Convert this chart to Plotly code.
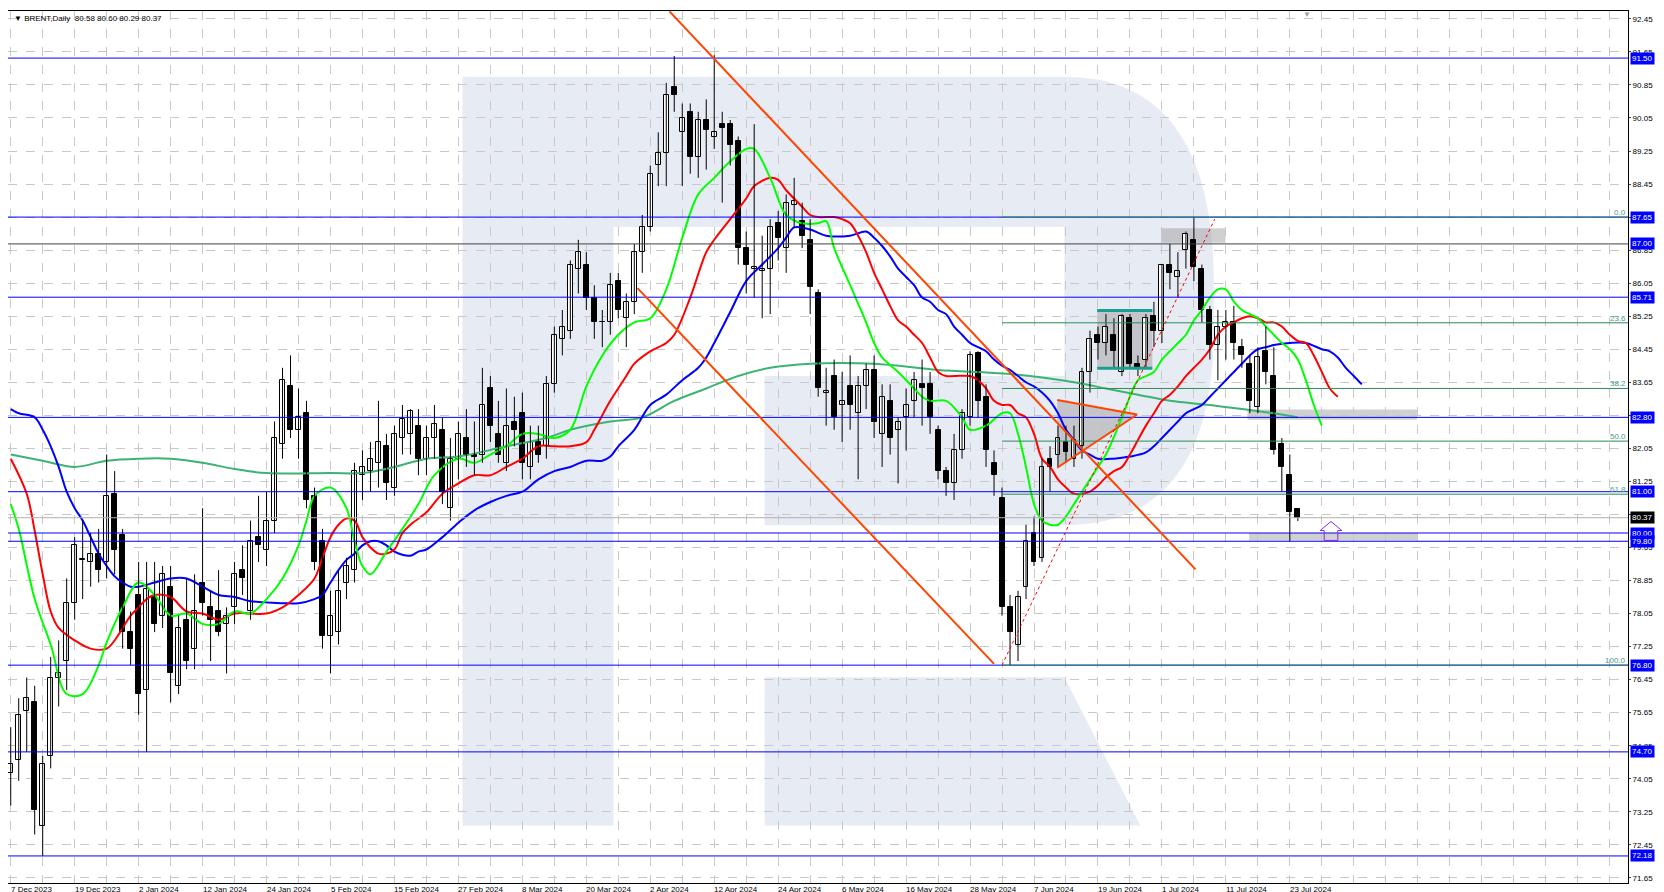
import plotly.graph_objects as go

# BRENT daily, 7 Dec 2023 .. 24 Jul 2024 (bar index on x)
opens = [74.2, 74.5, 75.7, 75.9, 72.9, 74.6, 76.5, 76.9, 78.3, 79.35, 79.3, 79.5, 79.3, 80.95, 79.95, 77.6,
         78.5, 76.2, 78.45, 78.0, 78.7, 76.3, 77.9, 77.2, 78.8, 78.2, 78.1, 77.8, 78.2, 79.1, 78.1, 79.9,
         79.6, 80.3, 82.15, 83.55, 82.5, 82.9, 80.9, 79.8, 77.5, 77.6, 78.8, 79.1, 81.4, 81.5, 81.7, 82.1,
         81.1, 82.3, 82.4, 82.6, 81.8, 82.3, 82.5, 80.6, 81.8, 82.3, 81.9, 81.9, 83.5, 82.4, 81.7, 82.7,
         82.9, 81.6, 82.2, 82.1, 83.6, 84.7, 84.9, 86.4, 86.5, 85.7, 85.1, 85.1, 86.1, 85.2, 85.6, 86.8,
         87.4, 88.9, 89.2, 90.8, 89.7, 90.2, 89.1, 90.0, 89.6, 89.9, 89.9, 89.5, 86.9, 86.4, 86.35, 86.4,
         87.5, 86.9, 87.95, 87.55, 87.1, 85.8, 83.4, 83.8, 83.1, 83.55, 82.9, 83.55, 83.95, 82.4, 83.2, 82.5,
         82.8, 83.2, 83.6, 83.6, 82.5, 81.5, 81.2, 82.0, 82.8, 84.35, 83.3, 81.7, 80.85, 78.2, 77.3, 78.7,
         80.0, 79.4, 81.8, 81.9, 82.2, 81.8, 82.1, 83.9, 84.8, 84.6, 84.8, 83.9, 85.2, 84.1, 84.2, 85.25,
         84.9, 86.5, 86.2, 86.85, 87.1, 86.4, 85.4, 84.55, 85.0, 85.1, 84.5, 84.1, 83.05, 84.4, 83.8, 82.15,
         81.4, 80.58]
highs = [75.3, 76.0, 76.5, 76.3, 74.6, 77.0, 77.4, 78.9, 79.9, 80.3, 80.0, 80.1, 81.9, 81.5, 80.1, 78.1,
         79.3, 79.3, 79.3, 79.2, 79.2, 78.0, 78.9, 79.0, 80.6, 78.6, 79.1, 78.2, 79.3, 79.7, 80.3, 80.9,
         81.0, 82.7, 84.0, 84.3, 83.5, 83.2, 81.1, 80.1, 78.6, 79.1, 79.4, 81.7, 82.0, 82.2, 83.2, 82.4,
         82.6, 83.1, 83.0, 83.0, 82.6, 83.1, 82.8, 82.3, 82.7, 83.0, 82.7, 84.0, 83.8, 83.2, 83.5, 83.3,
         83.4, 82.6, 82.6, 83.8, 85.0, 85.4, 86.6, 87.1, 86.8, 86.0, 85.4, 86.3, 86.3, 85.8, 87.0, 87.7,
         88.9, 89.7, 90.9, 91.55, 90.4, 90.4, 90.2, 90.5, 91.57, 90.2, 90.0, 89.6, 87.3, 89.9, 87.2, 87.6,
         87.8, 88.2, 88.6, 88.0, 87.6, 85.9, 84.0, 84.2, 83.9, 84.3, 83.8, 84.1, 84.3, 83.6, 83.6, 82.8,
         83.5, 83.9, 84.2, 83.9, 82.6, 81.6, 82.4, 83.0, 84.4, 84.4, 83.6, 82.0, 81.1, 78.5, 78.6, 80.2,
         80.4, 81.8, 82.1, 82.6, 82.6, 82.6, 84.0, 84.9, 85.0, 85.3, 85.2, 85.3, 85.3, 84.3, 85.3, 85.6,
         86.5, 87.0, 86.8, 87.3, 87.65, 86.5, 85.5, 85.4, 85.4, 85.5, 84.7, 84.3, 84.5, 85.0, 84.5, 82.3,
         81.9, 80.60]
lows = [73.4, 74.0, 74.7, 72.7, 72.18, 74.3, 75.8, 76.2, 77.9, 78.4, 78.7, 78.8, 78.9, 79.0, 77.2, 76.8,
        75.6, 74.7, 77.6, 77.7, 75.9, 76.1, 76.7, 76.7, 78.0, 76.9, 77.5, 76.6, 77.8, 78.5, 77.9, 79.3,
        79.2, 80.0, 81.8, 82.3, 81.8, 80.6, 79.1, 77.2, 76.6, 77.3, 78.4, 78.8, 80.8, 81.0, 81.1, 80.8,
        80.9, 81.9, 81.9, 81.4, 81.4, 81.8, 80.7, 80.3, 81.3, 81.6, 81.4, 81.7, 82.2, 81.7, 81.5, 82.1,
        81.3, 81.3, 81.7, 81.8, 83.4, 84.3, 84.7, 85.8, 85.4, 84.7, 84.5, 84.8, 85.2, 84.5, 85.3, 86.3,
        87.3, 88.4, 88.4, 90.2, 88.4, 88.7, 88.6, 88.8, 89.3, 88.0, 88.9, 86.5, 85.8, 85.7, 85.2, 85.3,
        86.6, 86.3, 87.4, 86.9, 85.3, 83.3, 82.6, 82.5, 82.2, 82.5, 81.3, 83.0, 82.3, 81.6, 81.9, 81.2,
        82.0, 82.8, 82.6, 82.4, 81.3, 80.9, 80.8, 81.8, 82.6, 82.8, 81.6, 80.9, 78.0, 76.8, 76.9, 78.4,
        79.2, 79.3, 81.0, 81.6, 81.7, 81.6, 81.8, 83.4, 84.2, 84.3, 84.0, 83.8, 84.0, 83.8, 84.0, 84.5,
        84.6, 85.9, 85.7, 86.4, 86.1, 85.1, 84.2, 83.7, 84.2, 84.2, 84.0, 82.9, 82.9, 83.6, 81.9, 81.0,
        79.8, 80.29]
closes = [74.4, 75.6, 76.0, 73.3, 74.4, 76.5, 76.6, 78.3, 79.7, 79.35, 79.5, 79.1, 80.9, 79.6, 77.6, 77.2,
          76.1, 78.65, 77.8, 79.0, 76.6, 77.7, 76.9, 78.1, 78.3, 77.9, 77.6, 78.0, 79.0, 78.9, 79.8, 79.7,
          80.3, 82.3, 83.7, 82.5, 82.8, 80.8, 79.3, 77.5, 78.0, 78.6, 79.2, 81.5, 81.6, 81.8, 82.2, 81.2,
          82.4, 82.75, 82.95, 81.8, 82.3, 82.65, 81.0, 81.8, 82.4, 81.9, 81.85, 83.1, 82.6, 81.9, 82.6, 82.5,
          81.7, 82.2, 81.9, 83.6, 84.8, 85.0, 86.5, 86.8, 85.7, 85.1, 85.1, 86.0, 85.4, 85.6, 86.8, 87.4,
          88.7, 89.2, 90.6, 90.6, 90.05, 89.1, 90.0, 89.75, 89.7, 89.8, 89.4, 86.9, 86.5, 86.45, 86.4, 87.4,
          87.15, 88.0, 88.05, 87.2, 85.95, 83.5, 83.45, 82.8, 83.2, 83.1, 83.55, 83.95, 82.7, 83.3, 82.3, 82.7,
          83.1, 83.7, 83.5, 82.8, 81.5, 81.2, 82.0, 82.9, 84.3, 83.2, 82.0, 81.4, 78.2, 77.6, 78.45, 79.8,
          79.3, 81.6, 81.6, 82.3, 81.95, 82.25, 83.9, 84.7, 84.6, 85.0, 84.4, 85.25, 84.1, 84.0, 85.2, 84.9,
          86.5, 86.3, 86.35, 87.25, 86.45, 85.4, 84.55, 85.0, 85.1, 84.6, 84.3, 83.2, 84.25, 83.9, 82.0, 81.6,
          80.5, 80.37]

date_idx = [0, 8, 16, 24, 32, 40, 48, 56, 64, 72, 80, 88, 96, 104, 112, 120, 128, 136, 144, 152, 160]
date_lbl = ["7 Dec 2023", "19 Dec 2023", "2 Jan 2024", "12 Jan 2024", "24 Jan 2024", "5 Feb 2024",
            "15 Feb 2024", "27 Feb 2024", "8 Mar 2024", "20 Mar 2024", "2 Apr 2024", "12 Apr 2024",
            "24 Apr 2024", "6 May 2024", "16 May 2024", "28 May 2024", "7 Jun 2024", "19 Jun 2024",
            "1 Jul 2024", "11 Jul 2024", "23 Jul 2024"]

# price scale labels
price_ticks = [92.45, 91.65, 90.85, 90.05, 89.25, 88.45, 87.65, 86.85, 86.05, 85.25, 84.45, 83.65, 82.85,
               82.05, 81.25, 80.45, 79.65, 78.85, 78.05, 77.25, 76.45, 75.65, 74.85, 74.05, 73.25, 72.45, 71.65]

# alligator lines (shifted forward) and slow MA
lips_x = [0, 1, 3, 5, 7, 9, 11, 12, 14, 16, 18, 20, 22, 24, 26, 28, 30, 32, 34, 36, 37, 38, 40, 42, 43, 44, 45,
          47, 49, 51, 53, 56, 58, 60, 62, 64, 66, 68, 70, 72, 74, 76, 78, 80, 82, 84, 86, 88, 90, 92, 93, 95,
          97, 99, 101, 102, 103, 105, 107, 108, 109, 111, 113, 114, 115, 117, 119, 120, 122, 124, 125, 126,
          127, 128, 129, 130, 131, 132, 133, 134, 135, 136, 137, 139, 141, 142, 143, 144, 145, 146, 147, 148,
          149, 150, 151, 152, 153, 154, 155, 156, 157, 158, 159, 160, 161, 162, 163, 164]
lips_y = [80.7, 80.1, 78.4, 77.3, 76.1, 76.1, 76.8, 77.35, 78.2, 78.8, 78.5, 78.0, 78.05, 77.8, 77.8, 78.1,
          78.05, 78.4, 78.9, 79.7, 80.3, 80.9, 81.1, 80.6, 79.8, 79.2, 79.0, 79.55, 80.1, 80.7, 81.4, 81.8,
          81.7, 81.9, 82.1, 82.4, 82.4, 82.3, 82.5, 83.55, 84.3, 84.8, 85.1, 85.2, 85.9, 87.15, 88.2, 88.6,
          89.0, 89.3, 89.3, 88.6, 87.7, 87.5, 87.5, 87.55, 86.9, 86.0, 85.1, 84.6, 84.25, 83.9, 83.5, 83.3,
          83.2, 83.2, 82.8, 82.5, 82.6, 82.9, 82.9, 82.4, 81.6, 80.7, 80.3, 80.2, 80.2, 80.4, 80.7, 81.0,
          81.3, 81.6, 81.9, 82.8, 83.7, 83.8, 83.9, 84.2, 84.4, 84.6, 84.8, 85.15, 85.4, 85.7, 85.9, 85.9,
          85.6, 85.4, 85.3, 85.2, 85.0, 84.8, 84.6, 84.45, 84.2, 83.7, 83.1, 82.6]
teeth_x = [0, 2, 3, 4, 5, 6, 8, 10, 12, 13, 14, 15, 16, 17, 18, 20, 22, 24, 26, 28, 32, 34, 36, 38, 39, 40, 41,
           42, 43, 44, 45, 46, 47, 48, 49, 50, 52, 54, 56, 58, 60, 62, 64, 66, 68, 70, 72, 73, 75, 77, 78, 80,
           82, 83, 85, 87, 88, 90, 92, 93, 95, 96, 97, 99, 100, 101, 103, 104, 105, 106, 107, 108, 109, 110,
           111, 112, 113, 114, 115, 116, 117, 118, 120, 121, 122, 123, 124, 125, 126, 127, 128, 129, 130, 131,
           132, 133, 134, 135, 136, 137, 138, 139, 140, 141, 142, 143, 144, 145, 146, 147, 148, 149, 150, 151,
           152, 153, 154, 155, 156, 157, 158, 159, 160, 161, 162, 163, 164, 165, 166]
teeth_y = [81.8, 80.95, 80.05, 79.0, 78.1, 77.7, 77.4, 77.2, 77.2, 77.4, 77.7, 78.0, 78.2, 78.4, 78.5, 78.45,
           78.1, 78.05, 77.9, 78.05, 78.05, 78.2, 78.5, 78.9, 79.4, 79.9, 80.2, 80.35, 80.3, 79.9, 79.65, 79.5,
           79.5, 79.6, 80.0, 80.2, 80.5, 80.95, 81.2, 81.4, 81.4, 81.6, 81.8, 82.1, 82.1, 82.1, 82.2, 82.5,
           83.2, 83.8, 84.1, 84.4, 84.6, 84.8, 85.7, 86.8, 87.1, 87.6, 88.1, 88.4, 88.6, 88.55, 88.3, 87.9,
           87.7, 87.65, 87.65, 87.6, 87.5, 87.2, 86.8, 86.3, 85.9, 85.5, 85.15, 85.0, 84.8, 84.6, 84.25, 83.9,
           83.8, 83.8, 83.8, 83.7, 83.5, 83.2, 83.1, 83.1, 82.9, 82.8, 82.4, 81.8, 81.6, 81.3, 81.1, 80.95,
           80.95, 81.0, 81.15, 81.35, 81.5, 81.6, 81.9, 82.25, 82.6, 82.9, 83.2, 83.35, 83.55, 83.8, 84.0,
           84.2, 84.45, 84.8, 85.0, 85.1, 85.2, 85.25, 85.2, 85.1, 85.1, 85.0, 84.8, 84.65, 84.6, 84.3, 83.9,
           83.5, 83.3]
jaw_x = [0, 1, 3, 4, 5, 6, 7, 8, 9, 10, 11, 12, 13, 14, 15, 16, 18, 20, 22, 24, 26, 28, 30, 34, 36, 38, 39, 40,
         41, 42, 43, 44, 45, 46, 47, 48, 50, 51, 52, 54, 56, 58, 60, 62, 64, 66, 68, 70, 72, 74, 75, 76, 78, 80,
         82, 84, 86, 87, 88, 90, 92, 94, 96, 97, 98, 100, 102, 105, 107, 108, 109, 110, 111, 112, 113, 114, 115,
         116, 117, 118, 119, 120, 121, 122, 123, 124, 125, 126, 127, 128, 129, 130, 131, 132, 133, 134, 135,
         136, 138, 140, 142, 143, 144, 145, 146, 147, 148, 149, 150, 151, 152, 153, 154, 155, 156, 157, 158,
         160, 162, 164, 165, 166, 167, 168, 169]
jaw_y = [83.0, 82.9, 82.8, 82.5, 82.1, 81.6, 81.0, 80.6, 80.3, 79.9, 79.5, 79.2, 78.95, 78.8, 78.7, 78.7, 78.8,
         78.9, 78.9, 78.7, 78.5, 78.45, 78.35, 78.3, 78.3, 78.4, 78.5, 78.8, 79.1, 79.35, 79.5, 79.7, 79.8, 79.8,
         79.7, 79.55, 79.45, 79.55, 79.6, 79.9, 80.25, 80.55, 80.75, 80.9, 81.0, 81.3, 81.5, 81.6, 81.75, 81.75,
         81.85, 82.1, 82.5, 83.1, 83.35, 83.7, 84.0, 84.25, 84.6, 85.35, 86.1, 86.5, 86.9, 87.15, 87.4, 87.35,
         87.2, 87.2, 87.3, 87.15, 86.95, 86.7, 86.4, 86.2, 86.0, 85.7, 85.6, 85.4, 85.3, 85.0, 84.8, 84.6, 84.5,
         84.4, 84.2, 84.05, 83.95, 83.8, 83.65, 83.55, 83.4, 83.2, 82.9, 82.5, 82.25, 82.0, 81.9, 81.8, 81.8,
         81.85, 81.95, 82.1, 82.3, 82.5, 82.7, 82.9, 83.0, 83.1, 83.3, 83.5, 83.7, 83.9, 84.1, 84.3, 84.45,
         84.5, 84.55, 84.6, 84.6, 84.45, 84.4, 84.25, 84.0, 83.8, 83.6]
slow_x = [0, 4, 8, 12, 16, 20, 24, 28, 32, 40, 44, 48, 52, 56, 62, 67, 70, 75, 79, 83, 87, 91, 95, 100, 108,
          116, 125, 133, 137, 141, 145, 150, 154, 158, 161]
slow_y = [81.9, 81.75, 81.6, 81.75, 81.8, 81.8, 81.7, 81.55, 81.45, 81.45, 81.45, 81.6, 81.8, 81.85, 82.1,
          82.3, 82.5, 82.7, 82.8, 83.2, 83.5, 83.8, 84.0, 84.1, 84.1, 83.95, 83.85, 83.65, 83.5, 83.35, 83.2,
          83.1, 83.0, 82.9, 82.8]

# horizontal levels and fibo
levels = [91.50, 87.65, 85.71, 82.80, 81.00, 80.00, 79.80, 76.80, 74.70, 72.18]
level_87 = 87.00
fib_pct = ["0.0", "23.6", "38.2", "50.0", "61.8", "100.0"]
fib_val = [87.65, 85.09, 83.50, 82.225, 80.94, 76.80]
last_price = 80.37

X0, X1 = -0.34, 202.3
Y0, Y1 = 71.525, 92.64
FONT = "Liberation Sans"

fig = go.Figure()

# watermark logo
logo = ("M 56.5,72.92 L 56.5,91.05 L 131.8,91.05 Q 150.5,91.05 150.5,86.0 L 150.5,85.0 "
        "Q 150.5,80.19 131.8,80.19 L 94.3,80.19 L 94.3,83.80 L 131.8,83.80 L 131.8,87.41 "
        "L 75.4,87.41 L 75.4,72.92 Z M 94.3,76.51 L 131.8,76.51 L 141.3,72.92 L 94.3,72.92 Z")
fig.add_shape(type="path", path=logo, xref="x", yref="y", fillcolor="#e7ecf4",
              line=dict(width=0), layer="below")

# gray zones
zones = [(143.9, 151.95, 87.03, 87.38), (154.7, 175.9, 82.74, 82.99), (154.9, 175.9, 79.82, 80.0),
         (135.9, 142.8, 83.99, 85.39)]
for x_a, x_b, y_a, y_b in zones:
    fig.add_shape(type="rect", x0=x_a, x1=x_b, y0=y_a, y1=y_b, fillcolor="rgba(150,150,150,0.45)",
                  line=dict(width=0), layer="below")
for yv in [83.99, 85.39]:
    fig.add_shape(type="line", x0=135.9, x1=142.8, y0=yv, y1=yv, line=dict(color="#1a9e8f", width=3))
fig.add_shape(type="path", path="M 130.9,83.22 L 140.9,82.87 L 130.9,81.58 Z",
              fillcolor="rgba(150,150,150,0.45)", line=dict(width=0), layer="below")

for lv in levels:
    fig.add_shape(type="line", x0=X0, x1=X1, y0=lv, y1=lv, line=dict(color="#0000ff", width=1))
fig.add_shape(type="line", x0=X0, x1=X1, y0=level_87, y1=level_87, line=dict(color="#404040", width=1))
fig.add_shape(type="line", x0=X0, x1=X1, y0=last_price, y1=last_price, line=dict(color="#b0b0b0", width=1))
for fv in fib_val:
    fig.add_shape(type="line", x0=124, x1=X1, y0=fv, y1=fv, line=dict(color="#2e8b57", width=1))

# trend lines
tl = "#ff4500"
fig.add_shape(type="line", x0=82.4, y0=92.63, x1=148.2, y1=79.12, line=dict(color=tl, width=2))
fig.add_shape(type="line", x0=78.4, y0=85.93, x1=123.0, y1=76.83, line=dict(color=tl, width=2))
fig.add_shape(type="line", x0=130.9, y0=83.22, x1=140.9, y1=82.87, line=dict(color=tl, width=2))
fig.add_shape(type="line", x0=130.9, y0=81.58, x1=140.9, y1=82.87, line=dict(color=tl, width=2))
fig.add_shape(type="line", x0=124.0, y0=76.8, x1=150.6, y1=87.6, line=dict(color="red", width=1, dash="dot"))

# up arrow
fig.add_shape(type="path", path="M 164.3,79.82 L 164.3,80.06 L 163.8,80.06 L 165.15,80.28 L 166.5,80.06 "
              "L 166.0,80.06 L 166.0,79.82 Z", line=dict(color="#8a2be2", width=1), fillcolor="rgba(0,0,0,0)")

ma = [(slow_x, slow_y, "#3cb371"), (jaw_x, jaw_y, "#0000ff"), (teeth_x, teeth_y, "#ff0000"),
      (lips_x, lips_y, "#00ff00")]
for mx, my, col in ma:
    fig.add_trace(go.Scatter(x=mx, y=my, mode="lines", line=dict(color=col, width=2, shape="spline"),
                             hoverinfo="skip", showlegend=False))

# candles: wicks + bodies
idx = list(range(len(closes)))
wx, wy = [], []
for i, h, l in zip(idx, highs, lows):
    wx += [i, i, None]
    wy += [l, h, None]
fig.add_trace(go.Scatter(x=wx, y=wy, mode="lines", line=dict(color="black", width=1),
                         hoverinfo="skip", showlegend=False))
body_base = [min(o, c) for o, c in zip(opens, closes)]
body_h = [max(abs(c - o), 0.02) for o, c in zip(opens, closes)]
body_col = ["white" if c >= o else "black" for o, c in zip(opens, closes)]
fig.add_trace(go.Bar(x=idx, y=body_h, base=body_base, width=0.62,
                     marker=dict(color=body_col, line=dict(color="black", width=1)),
                     showlegend=False, hoverinfo="skip"))

# price labels on right axis
ann = []
for lv in levels + [level_87]:
    ann.append(dict(x=1.0, xref="paper", y=lv, yref="y", text=f"{lv:.2f}", showarrow=False, xanchor="left",
                    xshift=2, font=dict(size=8, color="white", family=FONT), bgcolor="#0000ff",
                    borderpad=1))
ann.append(dict(x=1.0, xref="paper", y=last_price, yref="y", text=f"{last_price:.2f}", showarrow=False,
                xanchor="left", xshift=2, font=dict(size=8, color="white", family=FONT),
                bgcolor="black", borderpad=1))
for p, fv in zip(fib_pct, fib_val):
    ann.append(dict(x=X1, y=fv, text=p, showarrow=False, xanchor="right", yanchor="bottom", yshift=-2,
                    font=dict(size=8, color="#4a9a8a", family=FONT)))
for i, lb in zip(date_idx, date_lbl):
    ann.append(dict(x=i, y=0, yref="paper", text=lb, showarrow=False, xanchor="left", yanchor="top",
                    xshift=-2, yshift=0, font=dict(size=8, color="black", family=FONT)))
ann.append(dict(x=0, y=1, xref="paper", yref="paper", text="▼ BRENT,Daily  80.58 80.60 80.29 80.37",
                showarrow=False, xanchor="left", yanchor="top", xshift=4, yshift=-1,
                font=dict(size=8, color="black", family=FONT)))
ann.append(dict(x=162.2, y=1, yref="paper", text="▼", showarrow=False, yanchor="top", yshift=3,
                font=dict(size=8, color="#a0a0a0")))

fig.update_layout(
    width=1664, height=892, margin=dict(l=0, r=44, t=3, b=17),
    paper_bgcolor="white", plot_bgcolor="white", annotations=ann, bargap=0,
    xaxis=dict(range=[X0, X1], dtick=4, tick0=0, showgrid=True, gridcolor="#c8c8c8", griddash="dash",
               showticklabels=False, zeroline=False, showline=True, linecolor="black", mirror=True,
               fixedrange=True),
    yaxis=dict(range=[Y0, Y1], side="right", tickvals=price_ticks, ticktext=[f"{t:.2f}" for t in price_ticks],
               showgrid=True, gridcolor="#c8c8c8", griddash="dash", zeroline=False, showline=True,
               linecolor="black", mirror=True, ticks="outside", ticklen=2,
               tickfont=dict(size=8, family=FONT, color="black")),
    font=dict(family=FONT, size=8),
)

fig.write_html("out.html")
